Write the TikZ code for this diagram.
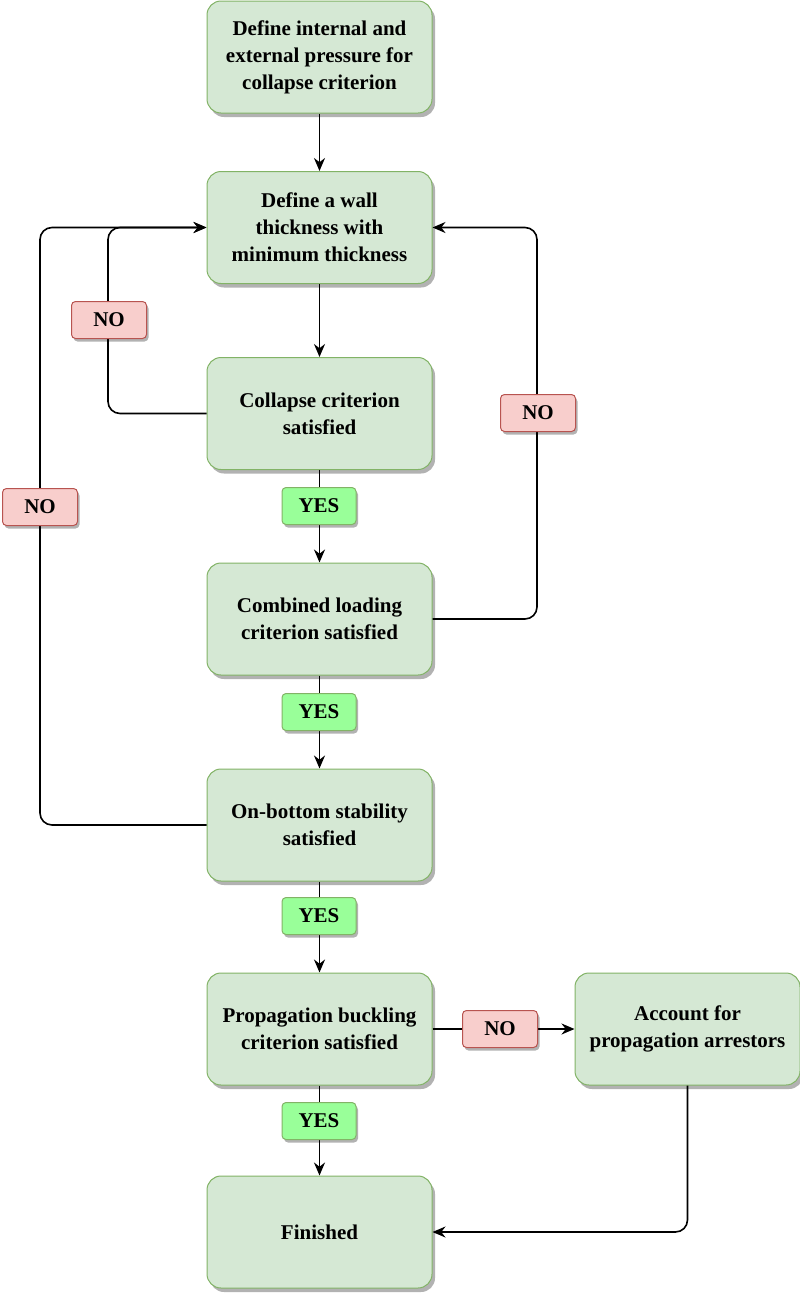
\documentclass[tikz,border=0pt]{standalone}
\usepackage{fontspec}
\setmainfont{Liberation Serif}
\usetikzlibrary{shadows,arrows.meta}
\definecolor{boxfill}{HTML}{D5E8D4}
\definecolor{boxdraw}{HTML}{82B366}
\definecolor{nofill}{HTML}{F8CECC}
\definecolor{nodraw}{HTML}{B85450}
\definecolor{yesfill}{HTML}{99FF99}
\definecolor{yesdraw}{HTML}{82B366}
\begin{document}
\begin{tikzpicture}[x=1pt,y=-1pt,
  procbox/.style={draw=boxdraw, fill=boxfill, line width=1pt, rounded corners=14pt,
    minimum width=225pt, minimum height=112pt, align=center, inner sep=0pt,
    font=\fontsize{21}{27}\selectfont\bfseries,
    drop shadow={shadow xshift=3pt, shadow yshift=-4pt, fill=black, opacity=0.3}},
  nolab/.style={draw=nodraw, fill=nofill, line width=1pt, rounded corners=4pt,
    minimum width=75pt, minimum height=37pt, inner sep=0pt,
    font=\fontsize{21}{22}\selectfont\bfseries,
    drop shadow={shadow xshift=2pt, shadow yshift=-3pt, fill=black, opacity=0.3}},
  yeslab/.style={draw=yesdraw, fill=yesfill, line width=1pt, rounded corners=4pt,
    minimum width=74pt, minimum height=37pt, inner sep=0pt,
    font=\fontsize{21}{22}\selectfont\bfseries,
    drop shadow={shadow xshift=2pt, shadow yshift=-3pt, fill=black, opacity=0.3}},
  conn/.style={draw=black, line width=1.6pt, rounded corners=12pt},
  arr/.style={conn, -{Stealth[length=13pt,width=11pt]}}
]
\useasboundingbox (0,0) rectangle (800,1296);

\node[procbox] (b1) at (319.5,57) {Define internal and\\external pressure for\\collapse criterion};
\node[procbox] (b2) at (319.5,227.5) {Define a wall\\thickness with\\minimum thickness};
\node[procbox] (b3) at (319.5,413.5) {Collapse criterion\\satisfied};
\node[procbox] (b4) at (319.5,619) {Combined loading\\criterion satisfied};
\node[procbox] (b5) at (319.5,825) {On-bottom stability\\satisfied};
\node[procbox] (b6) at (319.5,1029) {Propagation buckling\\criterion satisfied};
\node[procbox] (b7) at (319.5,1232) {Finished};
\node[procbox] (b8) at (687.5,1029) {Account for\\propagation arrestors};

\coordinate (in2w) at (b2.west);
\coordinate (in2e) at (b2.east);

% straight flow
\draw[arr] (b1) -- (b2);
\draw[arr] (b2) -- (b3);
\draw[arr] (b3) -- (b4);
\draw[arr] (b4) -- (b5);
\draw[arr] (b5) -- (b6);
\draw[arr] (b6) -- (b7);

% loops
\draw[arr] (b3.west) -- (108,413.5) -- (108,227.5) -- (in2w);
\draw[arr] (b5.west) -- (40,825) -- (40,227.5) -- (in2w);
\draw[arr] (b4.east) -- (537,619) -- (537,227.5) -- (in2e);
\draw[arr] (b6.east) -- (b8.west);
\draw[arr] (b8.south) -- (687.5,1232) -- (b7.east);

% labels
\node[nolab] (no1) at (109,320) {NO};
\node[nolab] (no2) at (40,507) {NO};
\node[nolab] (no3) at (538,413) {NO};
\node[nolab] (no4) at (500,1029) {NO};
\node[yeslab] (y1) at (319,506) {YES};
\node[yeslab] (y2) at (319,712) {YES};
\node[yeslab] (y3) at (319,916) {YES};
\node[yeslab] (y4) at (319,1121) {YES};
\end{tikzpicture}
\end{document}
